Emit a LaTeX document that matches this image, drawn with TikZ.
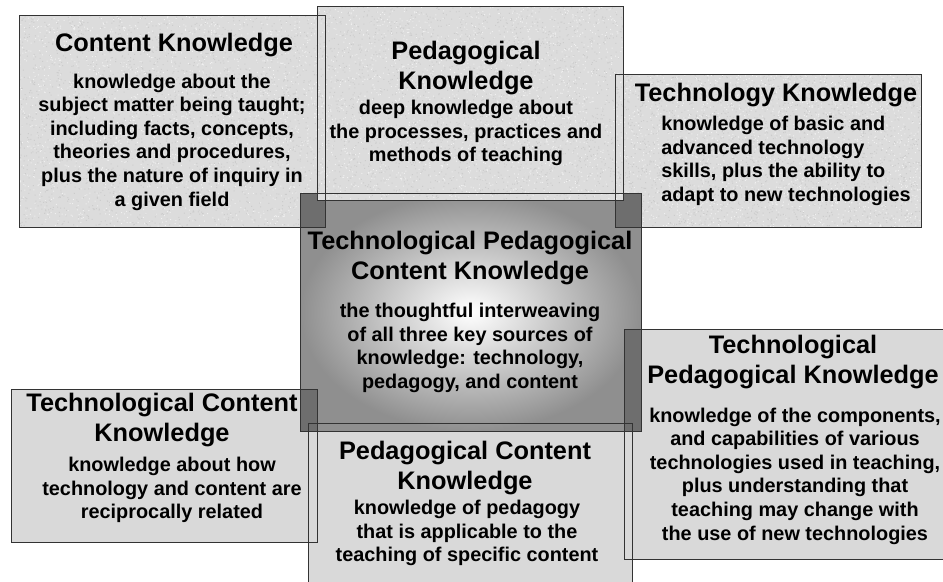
\documentclass[tikz,border=0pt]{standalone}
\usepackage{fontspec}
\setmainfont{Liberation Sans}
\usetikzlibrary{calc}

\definecolor{boxgray}{HTML}{D9D9D9}
\definecolor{stonegray}{HTML}{DCDCDC}
\definecolor{rimgray}{HTML}{333333}
\definecolor{overlapgray}{HTML}{6E6E6E}

\tikzset{
	rim/.style={draw=rimgray, line width=0.75pt},
	headtext/.style={font=\fontsize{19}{22.5}\selectfont\bfseries, align=center, inner sep=0pt},
	bodytext/.style={font=\fontsize{14.9}{17.7}\selectfont\bfseries, align=center, inner sep=0pt},
}

% granite look: base fill plus random specks, corners (#1,#2) and (#3,#4)
\newcommand{\stonefill}[4]{%
	\fill[stonegray] (#1,#2) rectangle (#3,#4);
	\fill[black!20] \foreach \g in {1,...,2200}{ ({#1+rnd*(#3-#1-1)},{#2+rnd*(#4-#2-1)}) rectangle ++(1,1) };
	\fill[white!94!black] \foreach \g in {1,...,1800}{ ({#1+rnd*(#3-#1-1)},{#2+rnd*(#4-#2-1)}) rectangle ++(1,1) };
}

\begin{document}
\begin{tikzpicture}[x=0.75pt, y=-0.75pt]
		%%%%% START %%%%%
		\pgfmathsetseed{11}
		\useasboundingbox (0,0) rectangle (943,582);
		\clip (0,0) rectangle (943,582);
		
		\stonefill{19}{15}{325}{227}
		\stonefill{615}{74}{921}{227}
		
		\fill[boxgray] (11,389) rectangle (317,542);
		\fill[boxgray] (624,329) rectangle (950,559);
		\fill[boxgray] (308,423) rectangle (632,590);
		
		\shade[inner color=white, outer color=black!44] (300,193) rectangle (641,431);
		
		\fill[overlapgray] (300,193) rectangle (325,227);
		\fill[overlapgray] (615,193) rectangle (641,227);
		\fill[overlapgray] (300,389) rectangle (317,431);
		\fill[overlapgray] (624,329) rectangle (641,431);
		
		\stonefill{317}{6}{623}{200}
		
		\draw[rim] (19,15) rectangle (325,227);
		\draw[rim] (317,6) rectangle (623,200);
		\draw[rim] (615,74) rectangle (921,227);
		\draw[rim] (300,193) rectangle (641,431);
		\draw[rim] (11,389) rectangle (317,542);
		\draw[rim] (624,329) rectangle (950,559);
		\draw[rim] (308,423) rectangle (632,590);
		
		\node[headtext] (ckhead) at (174,45) {Content Knowledge};
		\node[bodytext] (ckbody) at (172,142) {knowledge about the\\subject matter being taught;\\including facts, concepts,\\theories and procedures,\\plus the nature of inquiry in\\a given field};
		
		\node[headtext] (pkhead) at (466,68) {Pedagogical\\Knowledge};
		\node[bodytext] (pkbody) at (466,133) {deep knowledge about\\the processes, practices and\\methods of teaching};
		
		\node[headtext] (tkhead) at (776,95) {Technology Knowledge};
		\node[bodytext, align=left, anchor=west] (tkbody) at (661,161) {knowledge of basic and\\advanced technology\\skills, plus the ability to\\adapt to new technologies};
		
		\node[headtext] (tpckhead) at (470,258) {Technological Pedagogical\\Content Knowledge};
		\node[bodytext] (tpckbody) at (470,348) {the thoughtful interweaving\\of all three key sources of\\knowledge: technology,\\pedagogy, and content};
		
		\node[headtext] (tckhead) at (162,420) {Technological Content\\Knowledge};
		\node[bodytext] (tckbody) at (172,490) {knowledge about how\\technology and content are\\reciprocally related};
		
		\node[headtext] (pckhead) at (465,468) {Pedagogical Content\\Knowledge};
		\node[bodytext] (pckbody) at (467,533) {knowledge of pedagogy\\that is applicable to the\\teaching of specific content};
		
		\node[headtext] (tpkhead) at (793,362) {Technological\\Pedagogical Knowledge};
		\node[bodytext] (tpkbody) at (795,476) {knowledge of the components,\\and capabilities of various\\technologies used in teaching,\\plus understanding that\\teaching may change with\\the use of new technologies};
		
		%%%%% END %%%%%
	\end{tikzpicture}
\end{document}
